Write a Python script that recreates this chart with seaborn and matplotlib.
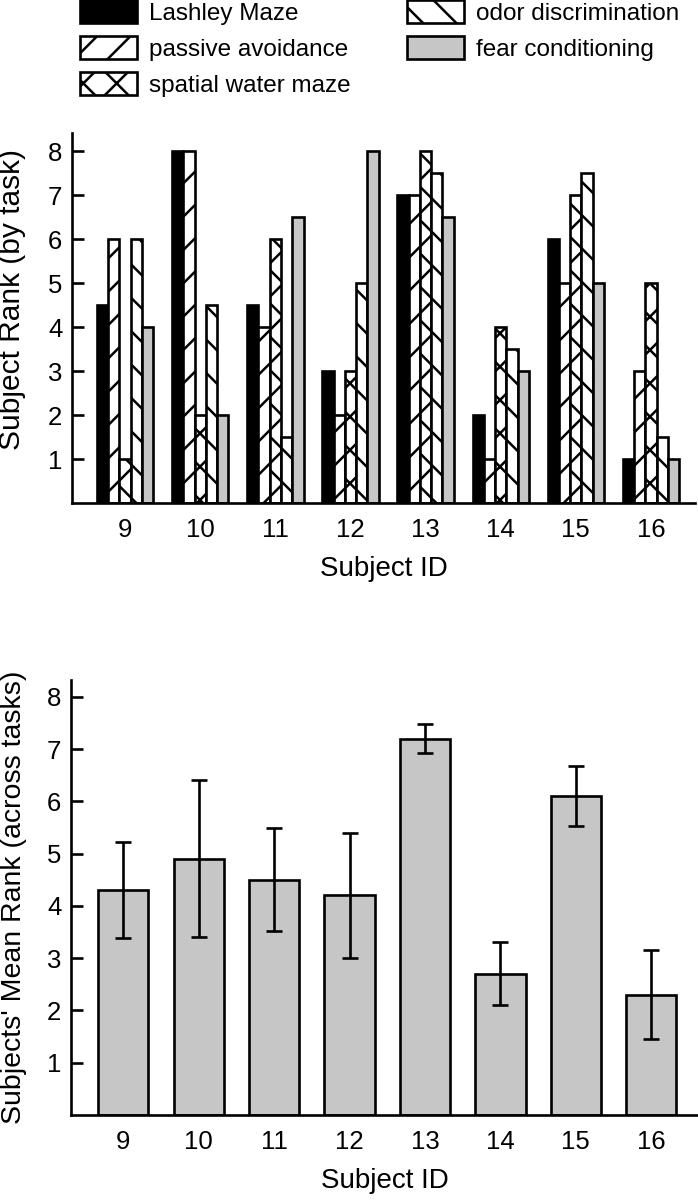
import numpy as np
import pandas as pd
import matplotlib
matplotlib.use("Agg")
import matplotlib.pyplot as plt
import matplotlib.patches as mpatches
import seaborn as sns

# ---------------- data ----------------
subjects = ["9", "10", "11", "12", "13", "14", "15", "16"]
tasks = ["Lashley Maze", "passive avoidance", "spatial water maze",
         "odor discrimination", "fear conditioning"]
lashley = [4.5, 8, 4.5, 3, 7, 2, 6, 1]
passive = [6, 8, 4, 2, 7, 1, 5, 3]
spatial = [1, 2, 6, 3, 8, 4, 7, 5]
odor = [6, 4.5, 1.5, 5, 7.5, 3.5, 7.5, 1.5]
fear = [4, 2, 6.5, 8, 6.5, 3, 5, 1]
mean_rank = [4.3, 4.9, 4.5, 4.2, 7.2, 2.7, 6.1, 2.3]
mean_err = [0.92, 1.5, 0.98, 1.2, 0.28, 0.6, 0.58, 0.85]
yticks = [1, 2, 3, 4, 5, 6, 7, 8]

task_colors = ["black", "white", "white", "white", "#c6c6c6"]
task_hatches = [None, "/", "x", "\\", None]

# ---------------- style ----------------
sns.set_theme(style="white")
plt.rcParams["font.family"] = ["Liberation Sans", "DejaVu Sans"]
plt.rcParams["hatch.linewidth"] = 1.8
plt.rcParams["hatch.color"] = "black"
plt.rcParams["text.color"] = "black"
plt.rcParams["axes.labelcolor"] = "black"
plt.rcParams["xtick.color"] = "black"
plt.rcParams["ytick.color"] = "black"

LW = 1.9
fig = plt.figure(figsize=(6.98, 12), dpi=100)

# ---------------- top panel ----------------
ax1 = fig.add_axes([72 / 698, (1200 - 503) / 1200, 623 / 698, 370 / 1200])
df = pd.DataFrame({
    "subject": np.repeat(subjects, len(tasks)),
    "task": tasks * len(subjects),
    "rank": np.array([lashley, passive, spatial, odor, fear]).T.ravel(),
})
sns.barplot(data=df, x="subject", y="rank", hue="task", order=subjects,
            hue_order=tasks, palette=task_colors, width=0.75,
            edgecolor="black", linewidth=LW, saturation=1, legend=False, ax=ax1)
for cont, h in zip(ax1.containers, task_hatches):
    for bar in cont:
        if h:
            bar.set_hatch(h)
        bar.set_edgecolor("black")

ax1.set_xlim(-0.707, 7.587)
ax1.set_ylim(0, 8.41)
ax1.set_yticks(yticks)
ax1.set_xlabel("Subject ID", fontsize=20, labelpad=10)
ax1.set_ylabel("Subject Rank (by task)", fontsize=21.5)
ax1.yaxis.set_label_coords(-0.074, 0.55)

# ---------------- bottom panel ----------------
ax2 = fig.add_axes([71 / 698, (1200 - 1115) / 1200, 627 / 698, 435 / 1200])
df2 = pd.DataFrame({"subject": subjects, "mean": mean_rank})
sns.barplot(data=df2, x="subject", y="mean", order=subjects, color="#c6c6c6",
            saturation=1, width=0.667, edgecolor="black", linewidth=LW,
            errorbar=None, ax=ax2)
xc = [p.get_x() + p.get_width() / 2 for p in ax2.patches]
ax2.errorbar(xc, mean_rank, yerr=mean_err, fmt="none", ecolor="black",
             elinewidth=LW, capsize=6, capthick=LW)
ax2.set_xlim(-0.693, 7.62)
ax2.set_ylim(0, 8.32)
ax2.set_yticks(yticks)
ax2.set_xlabel("Subject ID", fontsize=20, labelpad=10)
ax2.set_ylabel("Subjects' Mean Rank (across tasks)", fontsize=20.5)
ax2.yaxis.set_label_coords(-0.070, 0.5)

for ax in (ax1, ax2):
    sns.despine(ax=ax)
    for s in ("left", "bottom"):
        ax.spines[s].set_linewidth(LW)
        ax.spines[s].set_color("black")
    ax.tick_params(axis="y", direction="in", length=8.5, width=LW,
                   labelsize=18.5, pad=7, colors="black", left=True)
    ax.tick_params(axis="x", length=0, labelsize=18.5, pad=11, colors="black")

# ---------------- legend ----------------
handles = [mpatches.Patch(facecolor=c, edgecolor="black", hatch=h, linewidth=LW)
           for c, h in zip(task_colors, task_hatches)]
fig.legend(handles, tasks, ncol=2, loc="upper left",
           bbox_to_anchor=(80 / 698, 1.0), frameon=False, fontsize=17.5,
           handlelength=2.35, handleheight=1.1, handletextpad=0.5,
           columnspacing=2.3, labelspacing=0.45, borderpad=0, borderaxespad=0)

fig.savefig("out.png", dpi=100)
